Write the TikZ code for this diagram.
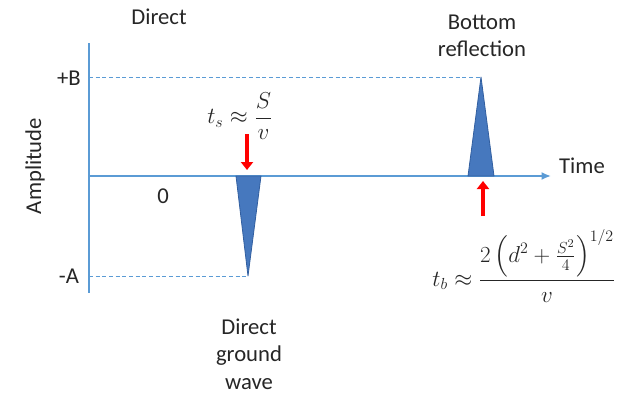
\documentclass[tikz,border=0pt]{standalone}
\usepackage{amsmath}
\usepackage{fontspec}
\setmainfont{Carlito}
\usepackage{tikz}
\usetikzlibrary{arrows.meta,calc,positioning}
\definecolor{axisblue}{RGB}{91,155,213}
\definecolor{spikeblue}{RGB}{70,120,190}
\definecolor{spikeedge}{RGB}{50,95,160}
\tikzset{
    myaxis/.style={line width=1.3pt,draw=axisblue},
    mylevel/.style={densely dashed,line width=0.6pt,draw=axisblue},
    myspike/.style={fill=spikeblue,draw=spikeedge,line width=0.6pt,line join=round},
    myarrow/.style={line width=2.4pt,draw=red,-{Triangle[length=6pt,width=9pt]}},
    mylabel/.style={font=\fontsize{17}{20.5}\selectfont,text=black!85,align=center,inner sep=1pt},
    mymath/.style={font=\fontsize{18}{22}\selectfont,text=black!85,inner sep=1pt}
}

\begin{document}
\begin{tikzpicture}[x=0.75pt,y=-0.75pt]
  \useasboundingbox (0,0) rectangle (639,396);

  \coordinate (O) at (89,176);
  \coordinate (Ytop) at (89,43);
  \coordinate (Ybot) at (89,293);
  \coordinate (Xend) at (551,176);
  \coordinate (Bpeak) at (481,77);
  \coordinate (Apeak) at (248,276);

  % axes
  \draw[myaxis] (Ytop)--(Ybot);
  \draw[myaxis,-{Latex[length=7pt,width=6pt]}] (O)--(Xend);

  % levels
  \draw[mylevel] (O |- Bpeak)--(Bpeak);
  \draw[mylevel] (O |- Apeak)--(Apeak);

  % spikes
  \draw[myspike] (236,176)--(261,176)--(Apeak)--cycle;
  \draw[myspike] (468,176)--(494,176)--(Bpeak)--cycle;

  % arrival markers
  \coordinate (Sa) at (247,134);
  \coordinate (Sb) at (247,170);
  \coordinate (Ba) at (483,216);
  \coordinate (Bb) at (483,181);
  \draw[myarrow] (Sa)--(Sb);
  \draw[myarrow] (Ba)--(Bb);

  % axis labels
  \node[mylabel] (time) at (582,166) {Time};
  \node[mylabel,rotate=90] (amp) at (35,166) {Amplitude};
  \node[mylabel] (plusB) at (69,78) {+B};
  \node[mylabel] (minusA) at (69,276) {-A};
  \node[mylabel] (zero) at (163,196) {0};

  % wave labels
  \node[mylabel] (direct) at (159,17) {Direct};
  \node[mylabel] (bottom) at (482,36) {Bottom\\reflection};
  \node[mylabel] (ground) at (249,354) {Direct\\ground\\wave};

  % arrival times
  \node[mymath] (ts) at (240,116) {$t_s \approx \dfrac{S}{v}$};
  \node[mymath] (tb) at (524,266)
    {$t_b \approx \dfrac{2\left(d^2+\tfrac{S^2}{4}\right)^{1/2}}{v}$};
\end{tikzpicture}
\end{document}
